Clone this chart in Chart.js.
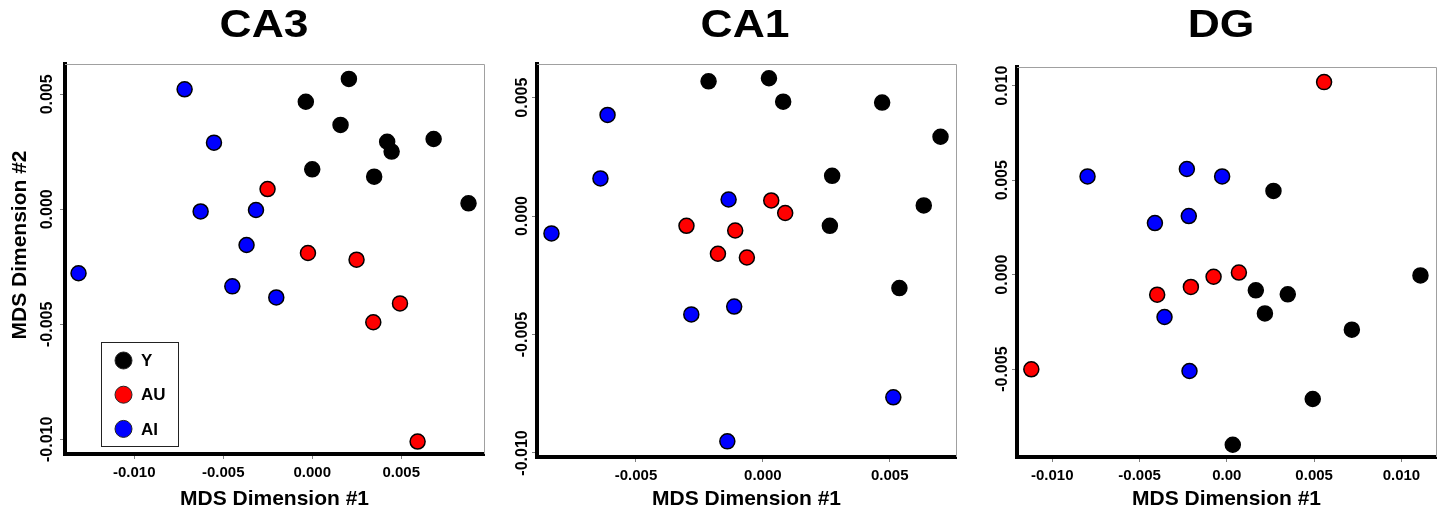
<!DOCTYPE html>
<html>
<head>
<meta charset="utf-8">
<script src="https://cdn.jsdelivr.net/npm/chart.js@4.4.1/dist/chart.umd.min.js"></script>
<style>
  html, body { margin: 0; padding: 0; background: #fff; overflow: hidden; }
  #wrap { position: relative; width: 1448px; height: 516px; }
  canvas { position: absolute; top: 0; }
</style>
</head>
<body>
<div id="wrap">
  <canvas id="ca3" width="496" height="516" style="left:0px"></canvas>
  <canvas id="ca1" width="480" height="516" style="left:490px"></canvas>
  <canvas id="dg" width="478" height="516" style="left:970px"></canvas>
</div>
<script>
var FONT = '"Liberation Sans", Arial, sans-serif';

var groups = ['Y', 'AU', 'AI'];
var groupColors = ['#000000', '#ff0000', '#0000ff'];

// CA3 points [dim1, dim2]
var ca3Y = [[0.00206, 0.00567], [-0.00036, 0.00468], [0.00159, 0.00367], [0.00421, 0.00294], [0.00446, 0.00251],
            [0.00682, 0.00306], [0.0, 0.00174], [0.00348, 0.00142], [0.00878, 0.00026]];
var ca3AU = [[-0.00251, 0.00088], [-0.00024, -0.0019], [0.00249, -0.00219], [0.00493, -0.00409], [0.00343, -0.00491],
             [0.00592, -0.0101]];
var ca3AI = [[-0.00717, 0.00522], [-0.00552, 0.0029], [-0.00627, -0.00009], [-0.00316, -0.00003], [-0.00369, -0.00155],
             [-0.00449, -0.00335], [-0.00202, -0.00383], [-0.01313, -0.00278]];

// CA1 points
var ca1Y = [[-0.00214, 0.00569], [0.00024, 0.00582], [0.0008, 0.00483], [0.0047, 0.00479], [0.007, 0.00335],
            [0.00273, 0.0017], [0.00634, 0.00045], [0.00264, -0.00041], [0.00538, -0.00304]];
var ca1AU = [[0.00033, 0.00066], [0.00088, 0.00013], [-0.00301, -0.00041], [-0.00109, -0.00061], [-0.00177, -0.00159],
             [-0.00063, -0.00175]];
var ca1AI = [[-0.00612, 0.00427], [-0.0064, 0.00159], [-0.00135, 0.0007], [-0.00833, -0.00073], [-0.00113, -0.00382],
             [-0.00282, -0.00415], [0.00514, -0.00765], [-0.0014, -0.00951]];

// DG points
var dgY = [[0.00267, 0.00443], [0.01109, -0.00004], [0.00166, -0.00083], [0.00349, -0.00104], [0.00218, -0.00205],
           [0.00716, -0.00291], [0.00492, -0.00658], [0.00034, -0.009]];
var dgAU = [[0.00557, 0.01019], [0.00069, 0.00011], [-0.00076, -0.00011], [-0.00206, -0.00065], [-0.00399, -0.00106],
            [-0.0112, -0.00501]];
var dgAI = [[-0.00798, 0.0052], [-0.00229, 0.00559], [-0.00027, 0.0052], [-0.00218, 0.0031], [-0.00412, 0.00273],
            [-0.00357, -0.00224], [-0.00214, -0.0051]];

// axis limits and ticks
var ca3XRange = [-0.01389, 0.00965], ca3YRange = [-0.01064, 0.00632];
var ca1XRange = [-0.0089, 0.00761],  ca1YRange = [-0.01017, 0.00642];
var dgXRange = [-0.01202, 0.01198],  dgYRange = [-0.00965, 0.01099];

var ca3XTicks = [-0.010, -0.005, 0.000, 0.005];
var ca3XLabels = ['-0.010', '-0.005', '0.000', '0.005'];
var ca3YTicks = [-0.010, -0.005, 0.000, 0.005];
var ca3YLabels = ['-0.010', '-0.005', '0.000', '0.005'];
var ca1XTicks = [-0.005, 0.000, 0.005];
var ca1XLabels = ['-0.005', '0.000', '0.005'];
var ca1YTicks = [-0.010, -0.005, 0.000, 0.005];
var ca1YLabels = ['-0.010', '-0.005', '0.000', '0.005'];
var dgXTicks = [-0.010, -0.005, 0.000, 0.005, 0.010];
var dgXLabels = ['-0.010', '-0.005', '0.00', '0.005', '0.010'];
var dgYTicks = [-0.005, 0.000, 0.005, 0.010];
var dgYLabels = ['-0.005', '0.000', '0.005', '0.010'];

// panel title, box on top/right, rotated y labels and y title, legend inside the first panel
var panelDecor = {
    id: 'panelDecor',
    beforeDatasetsDraw: function (chart, args, opts) {
        var a = chart.chartArea, ctx = chart.ctx;
        ctx.save();
        ctx.strokeStyle = '#a0a0a0';
        ctx.lineWidth = 1;
        ctx.beginPath();
        ctx.moveTo(a.left, Math.round(a.top) + 0.5);
        ctx.lineTo(Math.round(a.right) + 0.5, Math.round(a.top) + 0.5);
        ctx.lineTo(Math.round(a.right) + 0.5, a.bottom);
        ctx.stroke();

        // title, drawn a little wide like the original
        ctx.fillStyle = '#000';
        ctx.font = 'bold 38px ' + FONT;
        ctx.textAlign = 'center';
        ctx.textBaseline = 'alphabetic';
        ctx.save();
        ctx.translate(opts.titleX, 37);
        ctx.scale(1.17, 1);
        ctx.fillText(opts.title, 0, 0);
        ctx.restore();

        if (opts.yTitle) {
            ctx.save();
            ctx.font = 'bold 21px ' + FONT;
            ctx.textBaseline = 'middle';
            ctx.translate(20, 245);
            ctx.rotate(-Math.PI / 2);
            ctx.fillText(opts.yTitle, 0, 0);
            ctx.restore();
        }

        var ys = chart.scales.y;
        ctx.font = 'bold 16px ' + FONT;
        ctx.textBaseline = 'middle';
        ys.ticks.forEach(function (t, i) {
            var py = ys.getPixelForValue(t.value);
            ctx.save();
            ctx.translate(a.left - opts.gap, py);
            ctx.rotate(-Math.PI / 2);
            ctx.fillText(opts.yLabels[i], 0, 0);
            ctx.restore();
        });
        ctx.restore();
    },
    afterDraw: function (chart, args, opts) {
        if (!opts.legend) return;
        var ctx = chart.ctx, b = opts.legend;
        ctx.save();
        ctx.strokeStyle = '#222';
        ctx.lineWidth = 1;
        ctx.strokeRect(b.x + 0.5, b.y + 0.5, b.w, b.h);
        ctx.font = 'bold 17px ' + FONT;
        ctx.textAlign = 'left';
        ctx.textBaseline = 'middle';
        chart.data.datasets.forEach(function (ds, i) {
            var cy = b.y + 18.5 + i * 34.2;
            ctx.beginPath();
            ctx.arc(b.x + 22.5, cy, 8.5, 0, Math.PI * 2);
            ctx.fillStyle = ds.backgroundColor;
            ctx.fill();
            ctx.strokeStyle = '#222';
            ctx.stroke();
            ctx.fillStyle = '#000';
            ctx.fillText(ds.label, b.x + 40, cy + 1);
        });
        ctx.restore();
    }
};

function toPoints(arr) {
    return arr.map(function (p) { return { x: p[0], y: p[1] }; });
}

function makePanel(id, title, sets, xRange, yRange, xTicks, xLabels, yTicks, yLabels, box) {
    var datasets = sets.map(function (s, i) {
        return {
            label: groups[i],
            data: toPoints(s),
            backgroundColor: groupColors[i],
            borderColor: '#000',
            borderWidth: 1.5,
            pointRadius: 7.5,
            pointHoverRadius: 7.5
        };
    });
    var gridOpts = { drawOnChartArea: false, drawTicks: true, tickLength: 5, color: '#808080', lineWidth: 1 };
    var borderOpts = { display: true, color: '#000', width: 4 };

    new Chart(document.getElementById(id).getContext('2d'), {
        type: 'scatter',
        data: { datasets: datasets },
        options: {
            responsive: false,
            animation: false,
            events: [],
            layout: { padding: { left: 0, right: box.padRight, top: box.top, bottom: 0 } },
            plugins: {
                legend: { display: false },
                tooltip: { enabled: false },
                title: { display: false },
                panelDecor: {
                    title: title, titleX: box.titleX, gap: box.gap, yLabels: yLabels,
                    yTitle: box.yTitle, legend: box.legend
                }
            },
            scales: {
                x: {
                    type: 'linear',
                    position: 'bottom',
                    min: xRange[0],
                    max: xRange[1],
                    afterBuildTicks: function (s) { s.ticks = xTicks.map(function (v) { return { value: v }; }); },
                    afterFit: function (s) { s.height = 516 - box.bottom; },
                    ticks: {
                        autoSkip: false,
                        maxRotation: 0,
                        padding: 5,
                        color: '#000',
                        font: { size: 15, weight: 'bold', family: FONT },
                        callback: function (v, i) { return xLabels[i]; }
                    },
                    grid: gridOpts,
                    border: borderOpts,
                    title: {
                        display: true,
                        text: 'MDS Dimension #1',
                        color: '#000',
                        font: { size: 21, weight: 'bold', family: FONT },
                        padding: { top: 0, bottom: 4 }
                    }
                },
                y: {
                    type: 'linear',
                    position: 'left',
                    min: yRange[0],
                    max: yRange[1],
                    afterBuildTicks: function (s) { s.ticks = yTicks.map(function (v) { return { value: v }; }); },
                    afterFit: function (s) { s.width = box.left; },
                    ticks: { display: false },
                    grid: gridOpts,
                    border: borderOpts,
                    title: { display: false }
                }
            }
        },
        plugins: [panelDecor]
    });
}

makePanel('ca3', 'CA3', [ca3Y, ca3AU, ca3AI], ca3XRange, ca3YRange, ca3XTicks, ca3XLabels, ca3YTicks, ca3YLabels,
    { left: 65, top: 64, bottom: 454, padRight: 12, gap: 17, titleX: 264, yTitle: 'MDS Dimension #2',
      legend: { x: 101, y: 342, w: 77, h: 104 } });
makePanel('ca1', 'CA1', [ca1Y, ca1AU, ca1AI], ca1XRange, ca1YRange, ca1XTicks, ca1XLabels, ca1YTicks, ca1YLabels,
    { left: 47, top: 64, bottom: 457, padRight: 14, gap: 14, titleX: 255 });
makePanel('dg', 'DG', [dgY, dgAU, dgAI], dgXRange, dgYRange, dgXTicks, dgXLabels, dgYTicks, dgYLabels,
    { left: 47, top: 67, bottom: 457, padRight: 12, gap: 14, titleX: 251 });
</script>
</body>
</html>
